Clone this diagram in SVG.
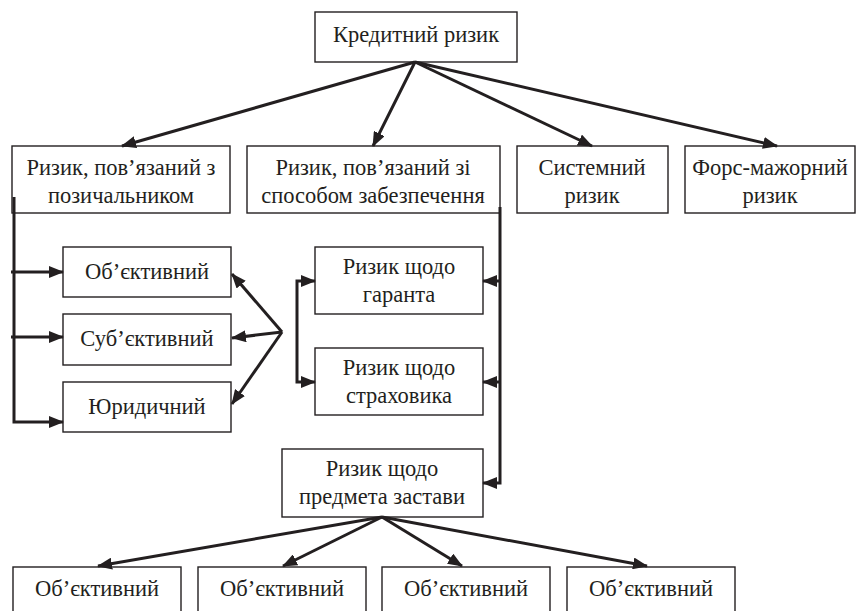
<svg xmlns="http://www.w3.org/2000/svg" width="858" height="611" viewBox="0 0 858 611">
<style>
.box{fill:#fff;stroke:#231f20;stroke-width:1.4}
.c{fill:none;stroke:#231f20;stroke-width:3;stroke-linejoin:miter}
</style>
<defs>
<marker id="ah" markerUnits="userSpaceOnUse" markerWidth="16" markerHeight="12" refX="14" refY="6" orient="auto-start-reverse">
<path d="M0,0 L15,6 L0,12 Z" fill="#231f20"/>
</marker>
</defs>
<rect width="858" height="611" fill="#fff"/>
<g font-family="Liberation Serif, Times New Roman, serif" font-size="22.5" fill="#231f20" text-anchor="middle">
<g id="n-credit"><rect class="box" x="315" y="12" width="202" height="50"/><text x="416" y="42">Кредитний ризик</text></g>
<g id="n-borrower"><rect class="box" x="12" y="146" width="218" height="67"/><text x="121" y="175">Ризик, пов’язаний з</text><text x="121" y="203">позичальником</text></g>
<g id="n-security"><rect class="box" x="247" y="146" width="253" height="67"/><text x="373" y="175">Ризик, пов’язаний зі</text><text x="373" y="203">способом забезпечення</text></g>
<g id="n-system"><rect class="box" x="517" y="146" width="151" height="67"/><text x="592" y="175">Системний</text><text x="592" y="203">ризик</text></g>
<g id="n-force"><rect class="box" x="685" y="146" width="170" height="67"/><text x="770" y="175">Форс-мажорний</text><text x="770" y="203">ризик</text></g>
<g id="n-obj"><rect class="box" x="63" y="247" width="168" height="50"/><text x="147" y="279">Об’єктивний</text></g>
<g id="n-subj"><rect class="box" x="63" y="314" width="168" height="51"/><text x="147" y="346">Суб’єктивний</text></g>
<g id="n-jur"><rect class="box" x="63" y="382" width="168" height="50"/><text x="147" y="414">Юридичний</text></g>
<g id="n-guarantor"><rect class="box" x="315" y="247" width="168" height="67"/><text x="399" y="274">Ризик щодо</text><text x="399" y="302">гаранта</text></g>
<g id="n-insurer"><rect class="box" x="315" y="348" width="168" height="67"/><text x="399" y="375">Ризик щодо</text><text x="399" y="403">страховика</text></g>
<g id="n-collateral"><rect class="box" x="282" y="449" width="201" height="68"/><text x="382" y="476">Ризик щодо</text><text x="382" y="504">предмета застави</text></g>
<g id="n-b1"><rect class="box" x="13" y="567" width="168" height="50"/><text x="97" y="596">Об’єктивний</text></g>
<g id="n-b2"><rect class="box" x="198" y="567" width="168" height="50"/><text x="282" y="596">Об’єктивний</text></g>
<g id="n-b3"><rect class="box" x="382" y="567" width="168" height="50"/><text x="466" y="596">Об’єктивний</text></g>
<g id="n-b4"><rect class="box" x="567" y="567" width="168" height="50"/><text x="651" y="596">Об’єктивний</text></g>
</g>
<g id="connectors">
<path class="c" d="M415,62 L122,146" marker-end="url(#ah)"/>
<path class="c" d="M415,62 L373,146" marker-end="url(#ah)"/>
<path class="c" d="M415,62 L592,146" marker-end="url(#ah)"/>
<path class="c" d="M415,62 L777,146" marker-end="url(#ah)"/>
<path class="c" d="M14,197 L14,422 L63,422" marker-end="url(#ah)"/>
<path class="c" d="M11,272 L63,272" marker-end="url(#ah)"/>
<path class="c" d="M11,337 L63,337" marker-end="url(#ah)"/>
<path class="c" d="M282,332 L232,274" marker-end="url(#ah)"/>
<path class="c" d="M282,332 L232,338" marker-end="url(#ah)"/>
<path class="c" d="M282,332 L232,404" marker-end="url(#ah)"/>
<path class="c" d="M315,281 L297,281 L297,382 L315,382" marker-start="url(#ah)" marker-end="url(#ah)"/>
<path class="c" d="M500,207 L500,483 L483,483" marker-end="url(#ah)"/>
<path class="c" d="M500,281 L483,281" marker-end="url(#ah)"/>
<path class="c" d="M500,382 L483,382" marker-end="url(#ah)"/>
<path class="c" d="M382,517 L98,566" marker-end="url(#ah)"/>
<path class="c" d="M382,517 L283,566" marker-end="url(#ah)"/>
<path class="c" d="M382,517 L462,566" marker-end="url(#ah)"/>
<path class="c" d="M382,517 L647,566" marker-end="url(#ah)"/>
</g>
</svg>
